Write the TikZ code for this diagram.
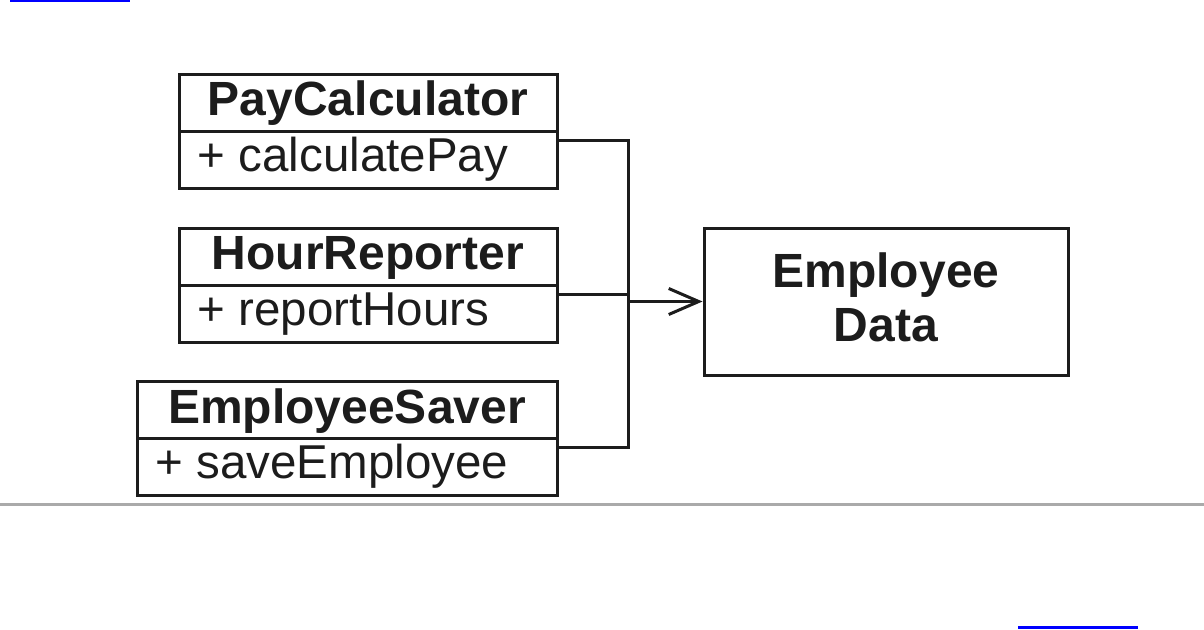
\documentclass[tikz,border=0pt]{standalone}
\usepackage{fontspec}
\setmainfont{Liberation Sans}
\usetikzlibrary{arrows.meta}
\definecolor{ink}{HTML}{1C1C1C}
\definecolor{rule}{HTML}{AAAAAA}
\begin{document}
\begin{tikzpicture}[x=1pt,y=-1pt,
  box/.style={draw=ink, line width=3pt, rectangle, inner sep=0pt, minimum height=57pt},
  title/.style={anchor=base, inner sep=0pt, font=\fontsize{48}{55}\selectfont\bfseries, text=ink},
  attr/.style={anchor=base west, inner sep=0pt, font=\fontsize{47.5}{55}\selectfont, text=ink},
  conn/.style={draw=ink, line width=3pt},
  bluebar/.style={draw={rgb,255:red,0;green,0;blue,255}, line width=2.5pt}]
\useasboundingbox (0,0) rectangle (1204,629);
% blue bars and grey rule
\coordinate (b1a) at (10,1); \coordinate (b1b) at (130,1);
\draw[bluebar] (b1a) -- (b1b);
\coordinate (b2a) at (1018,627.5); \coordinate (b2b) at (1138,627.5);
\draw[bluebar] (b2a) -- (b2b);
\coordinate (r1) at (0,504.5); \coordinate (r2) at (1204,504.5);
\draw[draw=rule, line width=3.5pt] (r1) -- (r2);
% PayCalculator
\node[box, minimum width=378pt] (pc1) at (368,102.5) {};
\node[box, minimum width=378pt] (pc2) at (368,159.5) {};
\node[title] (pct) at ([yshift=-43pt]pc1.north) {PayCalculator};
\node[attr] (pca) at ([xshift=20pt,yshift=-42pt]pc2.north west) {+ calculatePay};
% HourReporter
\node[box, minimum width=378pt] (hr1) at (368,256.5) {};
\node[box, minimum width=378pt] (hr2) at (368,313.5) {};
\node[title] (hrt) at ([yshift=-43pt]hr1.north) {HourReporter};
\node[attr] (hra) at ([xshift=20pt,yshift=-42pt]hr2.north west) {+ reportHours};
% EmployeeSaver
\node[box, minimum width=420pt] (es1) at (347,410) {};
\node[box, minimum width=420pt] (es2) at (347,466.5) {};
\node[title] (est) at ([yshift=-43pt]es1.north) {EmployeeSaver};
\node[attr] (esa) at ([xshift=20pt,yshift=-42pt]es2.north west) {+ saveEmployee};
% Employee Data
\node[box, minimum width=364pt, minimum height=147pt] (ed) at (886,301.5) {};
\node[title, align=center] (edt) at ([yshift=-115pt]ed.north) {Employee\\[-1pt]Data};
% connectors
\coordinate (jn) at (628,301.5);
\draw[conn] ([yshift=-11pt]pc2.north east) -| (jn);
\draw[conn] ([yshift=-11pt]es2.north east) -| (jn);
\draw[conn] ([yshift=-11pt]hr2.north east) -- ([yshift=-11pt]hr2.north east -| jn);
\draw[conn, -{Straight Barb[length=30pt, width=26pt, line width=3pt]}] (jn) -- (ed.west);
\end{tikzpicture}
\end{document}
